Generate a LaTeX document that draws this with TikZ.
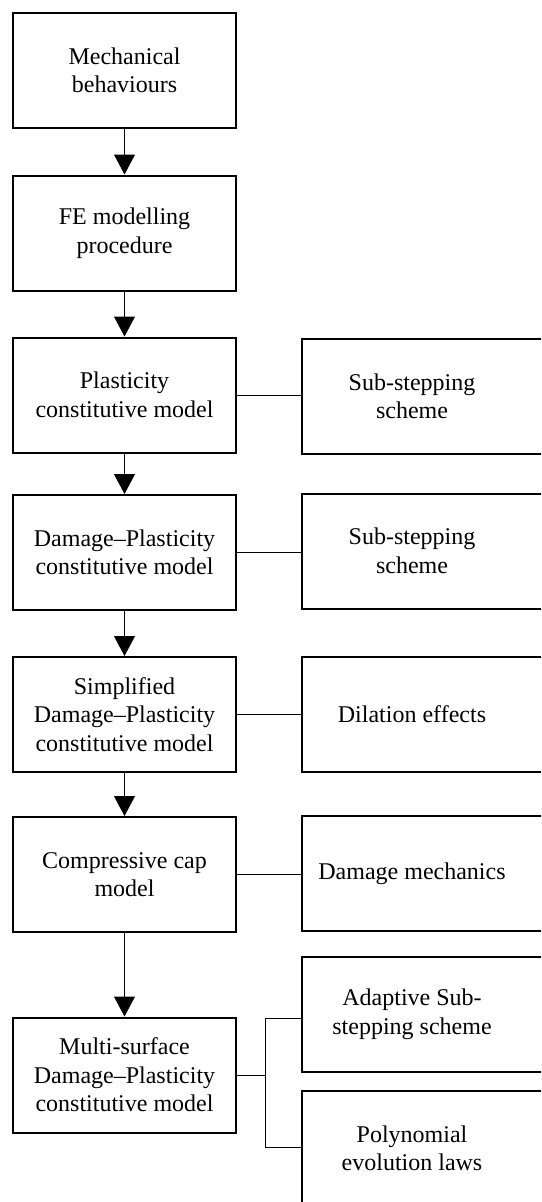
\documentclass[tikz,border=0pt]{standalone}
\usepackage{fontspec}
\setmainfont{Liberation Serif}
\usetikzlibrary{arrows.meta}
\begin{document}
\begin{tikzpicture}[x=1pt,y=-1pt,
  lbox/.style={draw, line width=2pt, minimum width=223pt, minimum height=115pt,
    inner sep=0pt, align=center, font=\fontsize{24}{28.5}\selectfont},
  rbox/.style={draw, line width=2pt, minimum width=280pt, minimum height=115pt,
    inner sep=0pt, anchor=west},
  rtext/.style={align=center, inner sep=0pt, font=\fontsize{24}{28.5}\selectfont},
  arr/.style={line width=1pt, -{Triangle[width=21pt,length=20pt]}},
  conn/.style={line width=1pt}]
\clip (0,0) rectangle (541,1202);
\fill[white] (0,0) rectangle (541,1202);

% main chain
\node[lbox] (b1) at (124.5,70.5)  {Mechanical\\behaviours};
\node[lbox] (b2) at (124.5,233)   {FE modelling\\procedure};
\node[lbox] (b3) at (124.5,395)   {Plasticity\\constitutive model};
\node[lbox] (b4) at (124.5,552.5) {Damage–Plasticity\\constitutive model};
\node[lbox] (b5) at (124.5,714.5) {Simplified\\Damage–Plasticity\\constitutive model};
\node[lbox] (b6) at (124.5,874.5) {Compressive cap\\model};
\node[lbox] (b7) at (124.5,1075)  {Multi-surface\\Damage–Plasticity\\constitutive model};

% side boxes
\node[rbox] (r3)  at (301,396.5)  {};
\node[rtext] (r3t) at (412,396.5)   {Sub-stepping\\scheme};
\node[rbox] (r4)  at (301,551)    {};
\node[rtext] (r4t) at (412,551)     {Sub-stepping\\scheme};
\node[rbox] (r5)  at (301,714.5)  {};
\node[rtext] (r5t) at (412,714.5)   {Dilation effects};
\node[rbox] (r6)  at (301,873.5)  {};
\node[rtext] (r6t) at (412,873.5)   {Damage mechanics};
\node[rbox] (r7a) at (301,1014)   {};
\node[rtext] (r7at) at (412,1014)   {Adaptive Sub-\\stepping scheme};
\node[rbox] (r7b) at (301,1148.5) {};
\node[rtext] (r7bt) at (412,1148.5) {Polynomial\\evolution laws};

% arrows down the chain
\draw[arr] (b1.south) -- (b2.north);
\draw[arr] (b2.south) -- (b3.north);
\draw[arr] (b3.south) -- (b4.north);
\draw[arr] (b4.south) -- (b5.north);
\draw[arr] (b5.south) -- (b6.north);
\draw[arr] (b6.south) -- (b7.north);

% links to side boxes
\draw[conn] (b3.east) -- (b3.east -| r3.west);
\draw[conn] (b4.east) -- (b4.east -| r4.west);
\draw[conn] (b5.east) -- (b5.east -| r5.west);
\draw[conn] (b6.east) -- (b6.east -| r6.west);
\coordinate (bj) at (265,1075);
\coordinate (ja) at (265,1018);
\coordinate (jb) at (265,1147);
\draw[conn] (b7.east) -- (bj);
\draw[conn] (ja -| r7a.west) -- (ja) -- (jb) -- (jb -| r7b.west);
\end{tikzpicture}
\end{document}
